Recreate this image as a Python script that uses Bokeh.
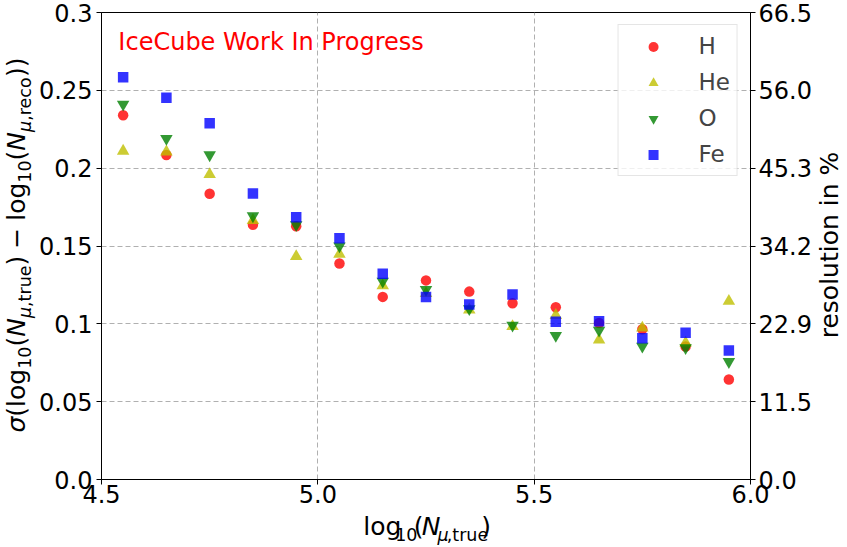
import math
from bokeh.plotting import figure
from bokeh.layouts import row, column
from bokeh.models import (Range1d, LinearAxis, FixedTicker, Label, Legend,
                          LegendItem, ColumnDataSource)
from bokeh.core.properties import value
from bokeh.embed import file_html
from bokeh.resources import INLINE

# ---------------- data ----------------
x_bins = [4.55, 4.65, 4.75, 4.85, 4.95, 5.05, 5.15, 5.25,
          5.35, 5.45, 5.55, 5.65, 5.75, 5.85, 5.95]
sigma_H = [0.234, 0.2085, 0.1836, 0.1637, 0.1627, 0.1388, 0.1173, 0.1279,
           0.1207, 0.1132, 0.1107, 0.1005, 0.0965, 0.0854, 0.0642]
sigma_He = [0.211, 0.2105, 0.196, 0.1665, 0.1433, 0.1448, 0.1245, 0.1195,
            0.109, 0.0983, 0.1055, 0.0897, 0.0974, 0.0878, 0.1145]
sigma_O = [0.241, 0.219, 0.2085, 0.1693, 0.1636, 0.150, 0.1273, 0.122,
           0.1096, 0.0991, 0.0925, 0.0958, 0.0855, 0.0846, 0.0757]
sigma_Fe = [0.2584, 0.2452, 0.2288, 0.1838, 0.1684, 0.155, 0.1322, 0.1173,
            0.1124, 0.1188, 0.1013, 0.1017, 0.0908, 0.0942, 0.0828]

x_ticks = [4.5, 5.0, 5.5, 6.0]
x_tick_labels = ["4.5", "5.0", "5.5", "6.0"]
y_ticks = [0.0, 0.05, 0.1, 0.15, 0.2, 0.25, 0.3]
y_tick_labels = ["0.0", "0.05", "0.1", "0.15", "0.2", "0.25", "0.3"]
res_tick_labels = ["0.0", "11.5", "22.9", "34.2", "45.3", "56.0", "66.5"]

series_names = ["H", "He", "O", "Fe"]
series_values = [sigma_H, sigma_He, sigma_O, sigma_Fe]
series_markers = ["circle", "triangle", "inverted_triangle", "square"]
series_colors = ["#ff0000", "#bfbf00", "#008000", "#0000ff"]
series_sizes = [10.5, 12.5, 12.5, 10.5]

FONT = "DejaVu Sans"
TICK_FS = "24px"
LABEL_SIZE = 25.0
SUB_SIZE = 17.5
BASE_FIX = 0.38   # em offset so that the drawn baseline lands where wanted

# ---------------- geometry (page pixels) ----------------
PAGE_W, PAGE_H = 847, 547
LEFT_W = 36          # strip holding the y label
RIGHT_W = 33         # strip holding the right label
MAIN_W = PAGE_W - LEFT_W - RIGHT_W
MAIN_H = 512
XLAB_H = PAGE_H - MAIN_H
FRAME_L, FRAME_R, FRAME_T, FRAME_B = 99, 752, 12, 479

p = figure(width=MAIN_W, height=MAIN_H, output_backend="svg",
           toolbar_location=None,
           x_range=Range1d(4.5, 6.0), y_range=Range1d(0.0, 0.3),
           min_border_left=FRAME_L - LEFT_W,
           min_border_right=LEFT_W + MAIN_W - FRAME_R,
           min_border_top=FRAME_T, min_border_bottom=MAIN_H - FRAME_B)
p.title.visible = False
p.background_fill_color = "white"
p.border_fill_color = "white"
p.outline_line_color = "black"
p.outline_line_alpha = 1.0
p.outline_line_width = 1


def style_axis(ax):
    ax.axis_line_color = "black"
    ax.axis_line_width = 1
    ax.major_tick_line_color = "black"
    ax.major_tick_out = 5
    ax.major_tick_in = 0
    ax.minor_tick_line_color = None
    ax.major_label_text_font = FONT
    ax.major_label_text_font_size = TICK_FS
    ax.major_label_text_color = "black"


p.xaxis.ticker = FixedTicker(ticks=x_ticks)
p.xaxis.major_label_overrides = dict(zip(x_ticks, x_tick_labels))
p.xaxis.major_label_standoff = 0
p.yaxis.ticker = FixedTicker(ticks=y_ticks)
p.yaxis.major_label_overrides = dict(zip(y_ticks, y_tick_labels))
p.yaxis.major_label_standoff = 4
for ax in list(p.xaxis) + list(p.yaxis):
    style_axis(ax)

right_axis = LinearAxis(ticker=FixedTicker(ticks=y_ticks),
                        major_label_overrides=dict(zip(y_ticks, res_tick_labels)),
                        major_label_standoff=3)
style_axis(right_axis)
p.add_layout(right_axis, "right")

for g in (p.xgrid, p.ygrid):
    g.grid_line_color = "#b0b0b0"
    g.grid_line_dash = "5 3"
    g.grid_line_width = 1

# ---------------- data points ----------------
items = []
for name, vals, mk, col, sz in zip(series_names, series_values, series_markers,
                                    series_colors, series_sizes):
    src = ColumnDataSource(dict(x=x_bins, y=vals))
    r = p.scatter("x", "y", source=src, marker=mk, size=sz,
                  fill_color=col, fill_alpha=0.8, line_color=None)
    items.append(LegendItem(label=name, renderers=[r]))

legend = Legend(items=items, location="top_right")
legend.label_text_font = FONT
legend.label_text_font_size = "23px"
legend.glyph_width = 55
legend.glyph_height = 25
legend.label_height = 28
legend.label_standoff = 18
legend.spacing = 8
legend.padding = 7
legend.margin = 12
legend.border_line_color = "#cccccc"
legend.border_line_width = 1
legend.background_fill_color = "white"
legend.background_fill_alpha = 0.8
p.add_layout(legend)

# baseline wanted at page y=51  ->  data y, then lift by BASE_FIX
y_per_px = 0.3 / (FRAME_B - FRAME_T)
wm_y = (FRAME_B - 51) * y_per_px + BASE_FIX * 24 * y_per_px
p.add_layout(Label(x=4.539, y=wm_y, text="IceCube Work In Progress",
                   text_font=FONT, text_font_size="24px", text_color="#ff0000",
                   text_align="left", text_baseline="alphabetic"))


# ---------------- label strips (data coords == page pixels) ----------------
def strip(w, h, x0, y0):
    f = figure(width=w, height=h, output_backend="svg", toolbar_location=None,
               x_range=Range1d(x0, x0 + w), y_range=Range1d(y0 + h, y0),
               min_border=0, x_axis_location=None, y_axis_location=None)
    f.title.visible = False
    f.grid.visible = False
    f.outline_line_color = None
    f.background_fill_color = "white"
    f.border_fill_color = "white"
    return f


left_fig = strip(LEFT_W, PAGE_H, 0, 0)
xlab_fig = strip(MAIN_W, XLAB_H, LEFT_W, MAIN_H)
right_fig = strip(RIGHT_W, PAGE_H, LEFT_W + MAIN_W, 0)

ADV = {'l': 0.278, 'o': 0.612, 'g': 0.635, '1': 0.636, '0': 0.636,
       '(': 0.390, ')': 0.390, 'N': 0.748, 'μ': 0.636, ',': 0.318,
       't': 0.392, 'r': 0.411, 'u': 0.634, 'e': 0.615, 'c': 0.550,
       'σ': 0.634, '−': 0.838, ' ': 0.318}


def piece_w(pc):
    txt, size, italic, shift, pad = pc
    return sum(ADV.get(ch, 0.6) for ch in txt) * size + 2 * pad


def compose(fig, pieces, bx, by, vertical):
    pos = 0.0
    for pc in pieces:
        txt, size, italic, shift, pad = pc
        fix = BASE_FIX * size
        if vertical:
            px, py, ang = bx + shift - fix, by - pos - pad, math.pi / 2
        else:
            px, py, ang = bx + pos + pad, by + shift - fix, 0.0
        fig.text(x=[px], y=[py], text=[txt], angle=ang,
                 text_font=value(FONT), text_font_size=value("%.1fpx" % size),
                 text_font_style="italic" if italic else "normal",
                 text_color="black", text_align="left",
                 text_baseline="alphabetic")
        pos += piece_w(pc)


F, S, SH = LABEL_SIZE, SUB_SIZE, 6
xlabel_pieces = [("log", F, False, 0, 0), ("10", S, False, SH, 0),
                 ("(", F, False, 0, 0), ("N", F, True, 0, 0),
                 ("μ", S, True, SH, 0), (",true", S, False, SH, 0),
                 (")", F, False, 0, 0)]
ylabel_pieces = [("σ", F, True, 0, 0), ("(", F, False, 0, 0),
                 ("log", F, False, 0, 0), ("10", S, False, SH, 0),
                 ("(", F, False, 0, 0), ("N", F, True, 0, 0),
                 ("μ", S, True, SH, 0), (",true", S, False, SH, 0),
                 (")", F, False, 0, 0), ("−", F, False, 0, 7),
                 ("log", F, False, 0, 0), ("10", S, False, SH, 0),
                 ("(", F, False, 0, 0), ("N", F, True, 0, 0),
                 ("μ", S, True, SH, 0), (",reco", S, False, SH, 0),
                 (")", F, False, 0, 0), (")", F, False, 0, 0)]

frame_cx = (FRAME_L + FRAME_R) / 2
frame_cy = (10 + FRAME_B) / 2
xw = sum(piece_w(pc) for pc in xlabel_pieces)
compose(xlab_fig, xlabel_pieces, frame_cx - xw / 2, 535, vertical=False)
yw = sum(piece_w(pc) for pc in ylabel_pieces)
compose(left_fig, ylabel_pieces, 25, frame_cy + yw / 2, vertical=True)

right_fig.text(x=[838 - BASE_FIX * 25], y=[frame_cy], text=["resolution in %"],
               angle=math.pi / 2, text_font=value(FONT),
               text_font_size=value("25px"), text_color="black",
               text_align="center", text_baseline="alphabetic")

layout = row(left_fig, column(p, xlab_fig), right_fig)
open("out.html", "w").write(file_html(layout, INLINE))
